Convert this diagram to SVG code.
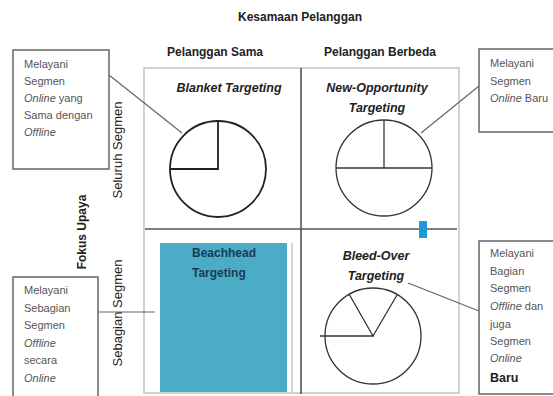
<svg xmlns="http://www.w3.org/2000/svg" width="553" height="396" viewBox="0 0 553 396">
<style>
text{font-family:"Liberation Sans",Arial,sans-serif;}
.hd{font-size:12px;font-weight:bold;fill:#222;}
.qt{font-size:12.5px;font-weight:bold;font-style:italic;fill:#222;text-anchor:middle;}
.bx{fill:#fff;stroke:#666;stroke-width:1.5;}
.bt{font-size:11px;fill:#555;}
.it{font-style:italic;}
.vt{font-size:13px;fill:#222;text-anchor:middle;}
.frame{fill:none;stroke:#c4c4c4;stroke-width:1.5;}
.div{stroke:#555;stroke-width:1.6;fill:none;}
.conn{stroke:#666;stroke-width:1.2;fill:none;}
.pie{fill:#fff;stroke:#333;stroke-width:1.3;}
.pl{stroke:#333;stroke-width:1.3;fill:none;}
</style>
<rect width="553" height="396" fill="#fff"/>

<g id="title">
<text class="hd" x="300" y="21" text-anchor="middle">Kesamaan Pelanggan</text>
<text class="hd" x="215" y="56" text-anchor="middle">Pelanggan Sama</text>
<text class="hd" x="380" y="56" text-anchor="middle">Pelanggan Berbeda</text>
</g>

<g id="axis-labels">
<text class="vt" transform="translate(121.5,150) rotate(-90)">Seluruh Segmen</text>
<text class="hd" text-anchor="middle" transform="translate(85.5,232) rotate(-90)">Fokus Upaya</text>
<text class="vt" transform="translate(121.5,313) rotate(-90)">Sebagian Segmen</text>
</g>

<g id="matrix">
<rect class="frame" x="144" y="68" width="315" height="325"/>
<line class="div" x1="301" y1="68" x2="301" y2="394"/>
<line class="div" x1="145" y1="229" x2="457" y2="229"/>
<line x1="292" y1="243" x2="292" y2="393" stroke="#c8c8c8" stroke-width="1.5"/>
</g>

<g id="blanket">
<text class="qt" x="229" y="92">Blanket Targeting</text>
<circle cx="218" cy="169" r="48" fill="#fff" stroke="#222" stroke-width="1.8"/>
<polyline points="218,121 218,169 170,169" fill="none" stroke="#222" stroke-width="1.8"/>
</g>

<g id="new-opportunity">
<text class="qt" x="377" y="92">New-Opportunity</text>
<text class="qt" x="377" y="112">Targeting</text>
<circle class="pie" cx="384" cy="168" r="48"/>
<line class="pl" x1="384" y1="120" x2="384" y2="168"/>
<line class="pl" x1="336" y1="168" x2="432" y2="168"/>
</g>

<g id="beachhead">
<rect x="160" y="243" width="127" height="149" fill="#4BACC6"/>
<text x="192" y="257" font-size="12" font-weight="bold" fill="#1C3A55">Beachhead</text>
<text x="192" y="277" font-size="12" font-weight="bold" fill="#1C3A55">Targeting</text>
</g>

<g id="marker-small">
<rect x="419" y="221" width="8" height="17" fill="#1E9AD6"/>
</g>

<g id="bleed-over">
<text class="qt" x="376" y="260">Bleed-Over</text>
<text class="qt" x="376" y="280">Targeting</text>
<circle class="pie" cx="373" cy="336" r="48"/>
<polyline class="pl" points="320,336 373,336 349,294"/>
<line class="pl" x1="373" y1="336" x2="397" y2="295"/>
</g>

<g id="box-top-left">
<rect class="bx" x="13" y="50" width="96" height="119"/>
<text class="bt" x="24" y="68">Melayani</text>
<text class="bt" x="24" y="85">Segmen</text>
<text class="bt" x="24" y="102"><tspan class="it">Online</tspan> yang</text>
<text class="bt" x="24" y="119">Sama dengan</text>
<text class="bt" x="24" y="136"><tspan class="it">Offline</tspan></text>
</g>

<g id="box-top-right">
<rect class="bx" x="479" y="49" width="80" height="83"/>
<text class="bt" x="490" y="67">Melayani</text>
<text class="bt" x="490" y="85">Segmen</text>
<text class="bt" x="490" y="102"><tspan class="it">Online</tspan> Baru</text>
</g>

<g id="box-bottom-left">
<rect class="bx" x="13" y="277" width="85" height="120"/>
<text class="bt" x="24" y="294">Melayani</text>
<text class="bt" x="24" y="311.5">Sebagian</text>
<text class="bt" x="24" y="329">Segmen</text>
<text class="bt it" x="24" y="346.5">Offline</text>
<text class="bt" x="24" y="364">secara</text>
<text class="bt it" x="24" y="381.5">Online</text>
</g>

<g id="box-bottom-right">
<rect class="bx" x="479" y="241" width="80" height="153"/>
<text class="bt" x="490" y="257">Melayani</text>
<text class="bt" x="490" y="275">Bagian</text>
<text class="bt" x="490" y="292">Segmen</text>
<text class="bt" x="490" y="310"><tspan class="it">Offline</tspan> dan</text>
<text class="bt" x="490" y="328">juga</text>
<text class="bt" x="490" y="345">Segmen</text>
<text class="bt it" x="490" y="362">Online</text>
<text x="490" y="382" font-size="12.5" font-weight="bold" fill="#222">Baru</text>
</g>

<g id="connectors">
<line class="conn" x1="109" y1="75" x2="182" y2="133"/>
<line class="conn" x1="421" y1="133" x2="479" y2="86"/>
<line class="conn" x1="98" y1="312" x2="155" y2="312"/>
<line class="conn" x1="408" y1="283" x2="479" y2="311"/>
</g>
</svg>
